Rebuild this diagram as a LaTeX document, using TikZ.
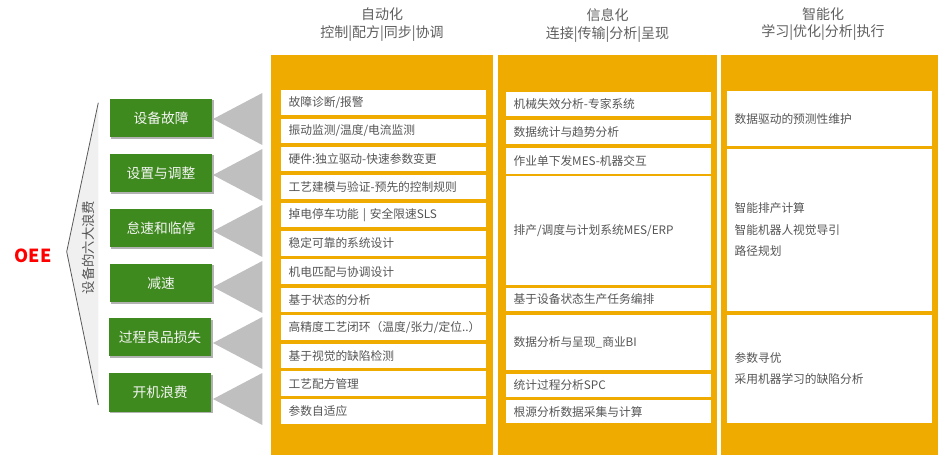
\documentclass[tikz,border=0pt]{standalone}
\usepackage{fontspec}
\setmainfont{Noto Sans CJK SC}
\usetikzlibrary{shadows}
\definecolor{orng}{HTML}{F0AB00}
\definecolor{grn}{HTML}{3F8A1F}
\definecolor{tri}{HTML}{BFBFBF}
\definecolor{txt}{HTML}{555555}
\definecolor{hdr}{HTML}{5F5F5F}
\definecolor{brkfill}{HTML}{F0F0F0}
\definecolor{brkline}{HTML}{595959}
\begin{document}
\begin{tikzpicture}[x=0.75pt,y=-0.75pt,
  colband/.style={fill=orng},
  cellbox/.style={fill=white, inner sep=0pt, anchor=north west, text width=153.8pt,
    align=left, text=txt, font=\fontsize{8.8pt}{16.3pt}\selectfont,
    execute at begin node={\leftskip=5.7pt}, minimum height={#1*0.75pt}},
  wastebox/.style={fill=grn, inner sep=0pt, anchor=north west, minimum width={102.5*0.75pt},
    minimum height={38.5*0.75pt}, text=white!92!gray, font=\fontsize{10.3pt}{12pt}\selectfont,
    drop shadow={shadow xshift=1.2pt, shadow yshift=-1.2pt, opacity=0.3, fill=black}},
  header/.style={align=center, text=hdr, font=\fontsize{10.5pt}{13pt}\selectfont, inner sep=0pt},
  arrowtri/.style={fill=tri}
]
\useasboundingbox (0,0) rectangle (938,455);

% orange columns
\fill[colband] (271,55) rectangle (492.7,455);
\fill[colband] (498.3,55) rectangle (716.7,455);
\fill[colband] (721,55) rectangle (938,455);

% headers
\node[header] (h1) at (382,24.5) {自动化\\控制|配方|同步|协调};
\node[header] (h2) at (607.5,25.5) {信息化\\连接|传输|分析|呈现};
\node[header] (h3) at (823,24) {智能化\\学习|优化|分析|执行};

% column 1 cells
\node[cellbox=24.3] (a0)  at (280.7,90.0)  {故障诊断/报警};
\node[cellbox=24.3] (a1)  at (280.7,118.6) {振动监测/温度/电流监测};
\node[cellbox=24.3] (a2)  at (280.7,146.7) {硬件:独立驱动-快速参数变更};
\node[cellbox=24.3] (a3)  at (280.7,174.9) {工艺建模与验证-预先的控制规则};
\node[cellbox=24.3] (a4)  at (280.7,202.9) {掉电停车功能 | 安全限速SLS};
\node[cellbox=24.3] (a5)  at (280.7,231.0) {稳定可靠的系统设计};
\node[cellbox=24.3] (a6)  at (280.7,259.2) {机电匹配与协调设计};
\node[cellbox=24.3] (a7)  at (280.7,287.3) {基于状态的分析};
\node[cellbox=24.3] (a8)  at (280.7,315.1) {高精度工艺闭环（温度/张力/定位..）};
\node[cellbox=24.3] (a9)  at (280.7,343.3) {基于视觉的缺陷检测};
\node[cellbox=24.3] (a10) at (280.7,371.1) {工艺配方管理};
\node[cellbox=24.3] (a11) at (280.7,399.0) {参数自适应};

% column 2 cells
\node[cellbox=24.0]  (b0) at (505.7,91.7)  {机械失效分析-专家系统};
\node[cellbox=24.3]  (b1) at (505.7,119.7) {数据统计与趋势分析};
\node[cellbox=25.3]  (b2) at (505.7,148.0) {作业单下发MES-机器交互};
\node[cellbox=108.3] (b3) at (505.7,176.0) {排产/调度与计划系统MES/ERP};
\node[cellbox=23.7]  (b4) at (505.7,287.3) {基于设备状态生产任务编排};
\node[cellbox=54.3]  (b5) at (505.7,315.0) {数据分析与呈现\_商业BI};
\node[cellbox=23.4]  (b6) at (505.7,373.3) {统计过程分析SPC};
\node[cellbox=22.7]  (b7) at (505.7,400.0) {根源分析数据采集与计算};

% column 3 cells
\node[cellbox=55.0]  (c0) at (726.7,91.0)  {数据驱动的预测性维护};
\node[cellbox=162.4] (c1) at (726.7,148.3) {智能排产计算\\智能机器人视觉导引\\路径规划};
\node[cellbox=108.0] (c2) at (726.7,314.3) {参数寻优\\采用机器学习的缺陷分析};

% six waste boxes
\node[wastebox] (w0) at (109.5,98.3)  {设备故障};
\node[wastebox] (w1) at (109.5,153.3) {设置与调整};
\node[wastebox] (w2) at (109.5,208.3) {怠速和临停};
\node[wastebox] (w3) at (109.5,263.3) {减速};
\node[wastebox] (w4) at (108.5,317.7) {过程良品损失};
\node[wastebox] (w5) at (108.5,373.0) {开机浪费};

% grey triangles pointing from columns to waste boxes
\foreach \k in {0,...,5}{
  \pgfmathsetmacro{\cy}{119+56*\k}
  \fill[arrowtri] (213,\cy) -- (262.3,\cy-26) -- (262.3,\cy+26) -- cycle;
}

% bracket
\fill[brkfill] (98.3,102.7) -- (66.7,251.7) -- (98.3,405) -- cycle;
\draw[brkline, line width=0.6pt] (98.3,102.7) -- (66.7,251.7) -- (98.3,405);
\node[rotate=90, text=txt, font=\fontsize{10pt}{12pt}\selectfont, inner sep=0pt] (six) at (88.5,247.5) {设备的六大浪费};

% OEE
\node[text=red, font=\fontsize{13.5pt}{16pt}\selectfont\bfseries, inner sep=0pt] (oee) at (33,256) {OEE};
\end{tikzpicture}
\end{document}
